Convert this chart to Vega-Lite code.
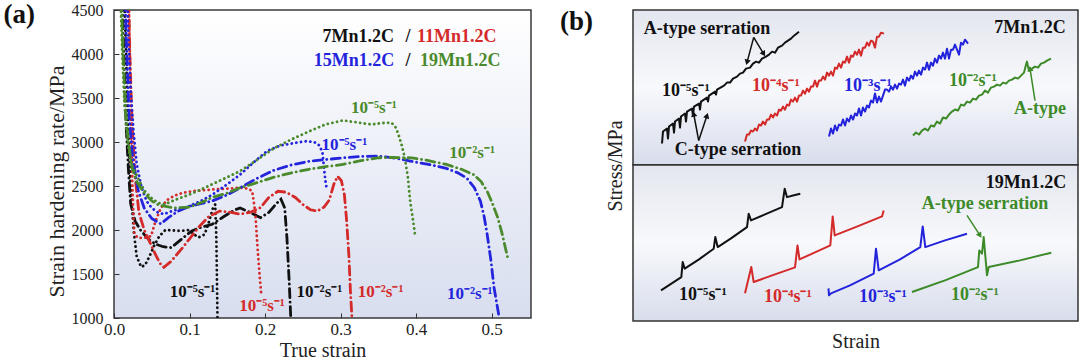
{
  "$schema": "https://vega.github.io/schema/vega-lite/v6.json",
  "background": "white",
  "padding": {"left": 2, "top": 0, "right": 0, "bottom": 0},
  "bounds": "flush",
  "spacing": 102,
  "config": {
    "font": "Liberation Serif",
    "view": {"stroke": "#3a3a3a", "strokeWidth": 1.5},
    "axis": {"grid": false, "labelFont": "Liberation Serif", "titleFont": "Liberation Serif", "titleFontWeight": "normal", "labelColor": "#222222", "titleColor": "#222222", "domain": false, "tickColor": "#333333", "labelFlush": false, "labelOverlap": false},
    "title": {"font": "Liberation Serif"}
  },
  "resolve": {"scale": {"color": "independent", "strokeDash": "independent"}},
  "hconcat": [
    {
      "width": 417,
      "height": 308,
      "title": {"text": "(a)", "orient": "left", "anchor": "end", "angle": 0, "align": "left", "baseline": "top", "fontSize": 27, "fontWeight": "bold", "color": "#111111", "offset": 10},
      "view": {"fill": {"gradient": "linear", "x1": 0, "y1": 0, "x2": 0, "y2": 1, "stops": [{"offset": 0, "color": "#ffffff"}, {"offset": 1, "color": "#d8deef"}]}, "stroke": "#3a3a3a", "strokeWidth": 1.5},
      "layer": [
        {
          "data": {"values": [
            {"a":"7Mn","e":"5","s":0.013,"v":4800},{"a":"7Mn","e":"5","s":0.016,"v":4000},{"a":"7Mn","e":"5","s":0.019,"v":3100},{"a":"7Mn","e":"5","s":0.022,"v":2500},{"a":"7Mn","e":"5","s":0.026,"v":2000},{"a":"7Mn","e":"5","s":0.03,"v":1700},{"a":"7Mn","e":"5","s":0.036,"v":1580},{"a":"7Mn","e":"5","s":0.041,"v":1600},{"a":"7Mn","e":"5","s":0.047,"v":1700},{"a":"7Mn","e":"5","s":0.053,"v":1820},{"a":"7Mn","e":"5","s":0.06,"v":1930},{"a":"7Mn","e":"5","s":0.068,"v":2000},{"a":"7Mn","e":"5","s":0.078,"v":1995},{"a":"7Mn","e":"5","s":0.088,"v":1990},{"a":"7Mn","e":"5","s":0.099,"v":2000},{"a":"7Mn","e":"5","s":0.106,"v":1950},{"a":"7Mn","e":"5","s":0.112,"v":1915},{"a":"7Mn","e":"5","s":0.12,"v":1950},{"a":"7Mn","e":"5","s":0.126,"v":2100},{"a":"7Mn","e":"5","s":0.131,"v":2250},{"a":"7Mn","e":"5","s":0.134,"v":2290},{"a":"7Mn","e":"5","s":0.1355,"v":1900},{"a":"7Mn","e":"5","s":0.137,"v":1000},
            {"a":"7Mn","e":"2","s":0.01,"v":4800},{"a":"7Mn","e":"2","s":0.013,"v":4000},{"a":"7Mn","e":"2","s":0.016,"v":3200},{"a":"7Mn","e":"2","s":0.019,"v":2700},{"a":"7Mn","e":"2","s":0.022,"v":2300},{"a":"7Mn","e":"2","s":0.028,"v":2100},{"a":"7Mn","e":"2","s":0.035,"v":2000},{"a":"7Mn","e":"2","s":0.045,"v":1900},{"a":"7Mn","e":"2","s":0.055,"v":1840},{"a":"7Mn","e":"2","s":0.065,"v":1810},{"a":"7Mn","e":"2","s":0.076,"v":1800},{"a":"7Mn","e":"2","s":0.09,"v":1900},{"a":"7Mn","e":"2","s":0.103,"v":1990},{"a":"7Mn","e":"2","s":0.115,"v":2030},{"a":"7Mn","e":"2","s":0.13,"v":2065},{"a":"7Mn","e":"2","s":0.145,"v":2150},{"a":"7Mn","e":"2","s":0.16,"v":2230},{"a":"7Mn","e":"2","s":0.167,"v":2250},{"a":"7Mn","e":"2","s":0.18,"v":2200},{"a":"7Mn","e":"2","s":0.194,"v":2140},{"a":"7Mn","e":"2","s":0.205,"v":2200},{"a":"7Mn","e":"2","s":0.215,"v":2300},{"a":"7Mn","e":"2","s":0.221,"v":2350},{"a":"7Mn","e":"2","s":0.226,"v":2250},{"a":"7Mn","e":"2","s":0.229,"v":1900},{"a":"7Mn","e":"2","s":0.232,"v":1400},{"a":"7Mn","e":"2","s":0.234,"v":1000},
            {"a":"11Mn","e":"5","s":0.019,"v":4800},{"a":"11Mn","e":"5","s":0.021,"v":4000},{"a":"11Mn","e":"5","s":0.023,"v":3000},{"a":"11Mn","e":"5","s":0.025,"v":2300},{"a":"11Mn","e":"5","s":0.027,"v":1950},{"a":"11Mn","e":"5","s":0.032,"v":1910},{"a":"11Mn","e":"5","s":0.04,"v":1910},{"a":"11Mn","e":"5","s":0.049,"v":1930},{"a":"11Mn","e":"5","s":0.055,"v":2100},{"a":"11Mn","e":"5","s":0.062,"v":2250},{"a":"11Mn","e":"5","s":0.07,"v":2340},{"a":"11Mn","e":"5","s":0.08,"v":2390},{"a":"11Mn","e":"5","s":0.09,"v":2420},{"a":"11Mn","e":"5","s":0.103,"v":2440},{"a":"11Mn","e":"5","s":0.115,"v":2450},{"a":"11Mn","e":"5","s":0.13,"v":2460},{"a":"11Mn","e":"5","s":0.15,"v":2470},{"a":"11Mn","e":"5","s":0.167,"v":2480},{"a":"11Mn","e":"5","s":0.178,"v":2470},{"a":"11Mn","e":"5","s":0.183,"v":2440},{"a":"11Mn","e":"5","s":0.187,"v":2200},{"a":"11Mn","e":"5","s":0.19,"v":1800},{"a":"11Mn","e":"5","s":0.193,"v":1450},{"a":"11Mn","e":"5","s":0.195,"v":1260},
            {"a":"11Mn","e":"2","s":0.019,"v":4800},{"a":"11Mn","e":"2","s":0.021,"v":4000},{"a":"11Mn","e":"2","s":0.024,"v":3200},{"a":"11Mn","e":"2","s":0.028,"v":2600},{"a":"11Mn","e":"2","s":0.033,"v":2200},{"a":"11Mn","e":"2","s":0.04,"v":2000},{"a":"11Mn","e":"2","s":0.048,"v":1850},{"a":"11Mn","e":"2","s":0.055,"v":1720},{"a":"11Mn","e":"2","s":0.061,"v":1620},{"a":"11Mn","e":"2","s":0.066,"v":1575},{"a":"11Mn","e":"2","s":0.075,"v":1640},{"a":"11Mn","e":"2","s":0.09,"v":1790},{"a":"11Mn","e":"2","s":0.1,"v":1900},{"a":"11Mn","e":"2","s":0.112,"v":2030},{"a":"11Mn","e":"2","s":0.125,"v":2150},{"a":"11Mn","e":"2","s":0.14,"v":2215},{"a":"11Mn","e":"2","s":0.155,"v":2200},{"a":"11Mn","e":"2","s":0.167,"v":2180},{"a":"11Mn","e":"2","s":0.18,"v":2200},{"a":"11Mn","e":"2","s":0.194,"v":2255},{"a":"11Mn","e":"2","s":0.205,"v":2370},{"a":"11Mn","e":"2","s":0.217,"v":2440},{"a":"11Mn","e":"2","s":0.228,"v":2430},{"a":"11Mn","e":"2","s":0.24,"v":2370},{"a":"11Mn","e":"2","s":0.25,"v":2290},{"a":"11Mn","e":"2","s":0.26,"v":2230},{"a":"11Mn","e":"2","s":0.269,"v":2215},{"a":"11Mn","e":"2","s":0.278,"v":2260},{"a":"11Mn","e":"2","s":0.285,"v":2340},{"a":"11Mn","e":"2","s":0.291,"v":2520},{"a":"11Mn","e":"2","s":0.296,"v":2610},{"a":"11Mn","e":"2","s":0.301,"v":2560},{"a":"11Mn","e":"2","s":0.305,"v":2400},{"a":"11Mn","e":"2","s":0.308,"v":2100},{"a":"11Mn","e":"2","s":0.311,"v":1700},{"a":"11Mn","e":"2","s":0.313,"v":1300},{"a":"11Mn","e":"2","s":0.315,"v":1000},
            {"a":"15Mn","e":"5","s":0.017,"v":4800},{"a":"15Mn","e":"5","s":0.019,"v":4200},{"a":"15Mn","e":"5","s":0.022,"v":3600},{"a":"15Mn","e":"5","s":0.026,"v":3100},{"a":"15Mn","e":"5","s":0.03,"v":2750},{"a":"15Mn","e":"5","s":0.036,"v":2500},{"a":"15Mn","e":"5","s":0.043,"v":2330},{"a":"15Mn","e":"5","s":0.05,"v":2250},{"a":"15Mn","e":"5","s":0.058,"v":2200},{"a":"15Mn","e":"5","s":0.066,"v":2180},{"a":"15Mn","e":"5","s":0.075,"v":2210},{"a":"15Mn","e":"5","s":0.087,"v":2240},{"a":"15Mn","e":"5","s":0.099,"v":2270},{"a":"15Mn","e":"5","s":0.115,"v":2330},{"a":"15Mn","e":"5","s":0.13,"v":2400},{"a":"15Mn","e":"5","s":0.15,"v":2520},{"a":"15Mn","e":"5","s":0.167,"v":2630},{"a":"15Mn","e":"5","s":0.185,"v":2770},{"a":"15Mn","e":"5","s":0.203,"v":2900},{"a":"15Mn","e":"5","s":0.22,"v":2960},{"a":"15Mn","e":"5","s":0.24,"v":2990},{"a":"15Mn","e":"5","s":0.255,"v":3010},{"a":"15Mn","e":"5","s":0.265,"v":3000},{"a":"15Mn","e":"5","s":0.272,"v":2960},{"a":"15Mn","e":"5","s":0.276,"v":2880},{"a":"15Mn","e":"5","s":0.278,"v":2700},{"a":"15Mn","e":"5","s":0.28,"v":2550},{"a":"15Mn","e":"5","s":0.282,"v":2450},
            {"a":"15Mn","e":"2","s":0.014,"v":4800},{"a":"15Mn","e":"2","s":0.017,"v":4000},{"a":"15Mn","e":"2","s":0.02,"v":3300},{"a":"15Mn","e":"2","s":0.025,"v":2800},{"a":"15Mn","e":"2","s":0.032,"v":2450},{"a":"15Mn","e":"2","s":0.04,"v":2250},{"a":"15Mn","e":"2","s":0.05,"v":2130},{"a":"15Mn","e":"2","s":0.062,"v":2070},{"a":"15Mn","e":"2","s":0.072,"v":2140},{"a":"15Mn","e":"2","s":0.085,"v":2215},{"a":"15Mn","e":"2","s":0.1,"v":2270},{"a":"15Mn","e":"2","s":0.115,"v":2300},{"a":"15Mn","e":"2","s":0.13,"v":2330},{"a":"15Mn","e":"2","s":0.15,"v":2400},{"a":"15Mn","e":"2","s":0.167,"v":2480},{"a":"15Mn","e":"2","s":0.19,"v":2590},{"a":"15Mn","e":"2","s":0.212,"v":2680},{"a":"15Mn","e":"2","s":0.235,"v":2740},{"a":"15Mn","e":"2","s":0.258,"v":2780},{"a":"15Mn","e":"2","s":0.28,"v":2800},{"a":"15Mn","e":"2","s":0.303,"v":2820},{"a":"15Mn","e":"2","s":0.325,"v":2835},{"a":"15Mn","e":"2","s":0.349,"v":2840},{"a":"15Mn","e":"2","s":0.37,"v":2820},{"a":"15Mn","e":"2","s":0.394,"v":2780},{"a":"15Mn","e":"2","s":0.42,"v":2740},{"a":"15Mn","e":"2","s":0.44,"v":2700},{"a":"15Mn","e":"2","s":0.455,"v":2650},{"a":"15Mn","e":"2","s":0.467,"v":2590},{"a":"15Mn","e":"2","s":0.477,"v":2480},{"a":"15Mn","e":"2","s":0.485,"v":2330},{"a":"15Mn","e":"2","s":0.49,"v":2150},{"a":"15Mn","e":"2","s":0.494,"v":1950},{"a":"15Mn","e":"2","s":0.499,"v":1650},{"a":"15Mn","e":"2","s":0.503,"v":1350},{"a":"15Mn","e":"2","s":0.507,"v":1150},{"a":"15Mn","e":"2","s":0.51,"v":1000},
            {"a":"19Mn","e":"5","s":0.008,"v":4800},{"a":"19Mn","e":"5","s":0.011,"v":4000},{"a":"19Mn","e":"5","s":0.014,"v":3400},{"a":"19Mn","e":"5","s":0.018,"v":3000},{"a":"19Mn","e":"5","s":0.023,"v":2750},{"a":"19Mn","e":"5","s":0.03,"v":2620},{"a":"19Mn","e":"5","s":0.04,"v":2450},{"a":"19Mn","e":"5","s":0.05,"v":2360},{"a":"19Mn","e":"5","s":0.058,"v":2310},{"a":"19Mn","e":"5","s":0.067,"v":2290},{"a":"19Mn","e":"5","s":0.08,"v":2340},{"a":"19Mn","e":"5","s":0.099,"v":2400},{"a":"19Mn","e":"5","s":0.115,"v":2460},{"a":"19Mn","e":"5","s":0.13,"v":2520},{"a":"19Mn","e":"5","s":0.15,"v":2600},{"a":"19Mn","e":"5","s":0.167,"v":2670},{"a":"19Mn","e":"5","s":0.19,"v":2800},{"a":"19Mn","e":"5","s":0.212,"v":2930},{"a":"19Mn","e":"5","s":0.235,"v":3030},{"a":"19Mn","e":"5","s":0.258,"v":3120},{"a":"19Mn","e":"5","s":0.28,"v":3200},{"a":"19Mn","e":"5","s":0.303,"v":3245},{"a":"19Mn","e":"5","s":0.32,"v":3225},{"a":"19Mn","e":"5","s":0.34,"v":3200},{"a":"19Mn","e":"5","s":0.355,"v":3215},{"a":"19Mn","e":"5","s":0.367,"v":3220},{"a":"19Mn","e":"5","s":0.372,"v":3180},{"a":"19Mn","e":"5","s":0.376,"v":3100},{"a":"19Mn","e":"5","s":0.381,"v":2960},{"a":"19Mn","e":"5","s":0.385,"v":2820},{"a":"19Mn","e":"5","s":0.389,"v":2600},{"a":"19Mn","e":"5","s":0.392,"v":2330},{"a":"19Mn","e":"5","s":0.396,"v":2100},{"a":"19Mn","e":"5","s":0.399,"v":1915},
            {"a":"19Mn","e":"2","s":0.009,"v":4800},{"a":"19Mn","e":"2","s":0.012,"v":4000},{"a":"19Mn","e":"2","s":0.015,"v":3400},{"a":"19Mn","e":"2","s":0.019,"v":3000},{"a":"19Mn","e":"2","s":0.024,"v":2700},{"a":"19Mn","e":"2","s":0.03,"v":2550},{"a":"19Mn","e":"2","s":0.04,"v":2420},{"a":"19Mn","e":"2","s":0.05,"v":2330},{"a":"19Mn","e":"2","s":0.058,"v":2290},{"a":"19Mn","e":"2","s":0.067,"v":2270},{"a":"19Mn","e":"2","s":0.08,"v":2250},{"a":"19Mn","e":"2","s":0.1,"v":2260},{"a":"19Mn","e":"2","s":0.115,"v":2310},{"a":"19Mn","e":"2","s":0.13,"v":2370},{"a":"19Mn","e":"2","s":0.15,"v":2420},{"a":"19Mn","e":"2","s":0.167,"v":2480},{"a":"19Mn","e":"2","s":0.19,"v":2540},{"a":"19Mn","e":"2","s":0.212,"v":2600},{"a":"19Mn","e":"2","s":0.235,"v":2650},{"a":"19Mn","e":"2","s":0.258,"v":2690},{"a":"19Mn","e":"2","s":0.28,"v":2720},{"a":"19Mn","e":"2","s":0.303,"v":2745},{"a":"19Mn","e":"2","s":0.325,"v":2785},{"a":"19Mn","e":"2","s":0.349,"v":2820},{"a":"19Mn","e":"2","s":0.37,"v":2825},{"a":"19Mn","e":"2","s":0.394,"v":2820},{"a":"19Mn","e":"2","s":0.415,"v":2790},{"a":"19Mn","e":"2","s":0.44,"v":2745},{"a":"19Mn","e":"2","s":0.46,"v":2690},{"a":"19Mn","e":"2","s":0.476,"v":2630},{"a":"19Mn","e":"2","s":0.486,"v":2550},{"a":"19Mn","e":"2","s":0.494,"v":2440},{"a":"19Mn","e":"2","s":0.501,"v":2300},{"a":"19Mn","e":"2","s":0.508,"v":2140},{"a":"19Mn","e":"2","s":0.514,"v":1950},{"a":"19Mn","e":"2","s":0.518,"v":1800},{"a":"19Mn","e":"2","s":0.521,"v":1690}
          ]},
          "mark": {"type": "line", "strokeWidth": 2.8, "strokeCap": "round", "clip": true},
          "encoding": {
            "x": {"field": "s", "type": "quantitative", "scale": {"domain": [0, 0.552], "nice": false, "zero": false},
                  "axis": {"title": "True strain", "values": [0, 0.1, 0.2, 0.3, 0.4, 0.5], "format": ".1f", "labelFontSize": 17, "titleFontSize": 20, "tickSize": -5, "labelPadding": 8, "titlePadding": 3}},
            "y": {"field": "v", "type": "quantitative", "scale": {"domain": [1000, 4500], "nice": false, "zero": false},
                  "axis": {"title": "Strain hardening rate/MPa", "values": [1000, 1500, 2000, 2500, 3000, 3500, 4000, 4500], "format": "d", "labelFontSize": 16, "titleFontSize": 22, "tickSize": -5, "labelPadding": 16, "titlePadding": 3, "titleY": 171}},
            "color": {"field": "a", "type": "nominal", "scale": {"domain": ["7Mn", "11Mn", "15Mn", "19Mn"], "range": ["#111111", "#d42a2a", "#2424dc", "#4a8a2c"]}, "legend": null},
            "strokeDash": {"field": "e", "type": "nominal", "scale": {"domain": ["5", "2"], "range": [[0.1, 4.6], [9, 4.5, 0.1, 4.5]]}, "legend": null}
          }
        },
        {
          "data": {"values": [
            {"s": 0.276, "v": 4190, "t": "7Mn1.2C", "a": "7Mn"},
            {"s": 0.386, "v": 4190, "t": "/", "a": "7Mn"},
            {"s": 0.401, "v": 4190, "t": "11Mn1.2C", "a": "11Mn"},
            {"s": 0.2645, "v": 3923, "t": "15Mn1.2C", "a": "15Mn"},
            {"s": 0.386, "v": 3923, "t": "/", "a": "7Mn"},
            {"s": 0.405, "v": 3923, "t": "19Mn1.2C", "a": "19Mn"}
          ]},
          "mark": {"type": "text", "align": "left", "baseline": "middle", "fontSize": 18, "fontWeight": "bold"},
          "encoding": {
            "x": {"field": "s", "type": "quantitative"},
            "y": {"field": "v", "type": "quantitative"},
            "text": {"field": "t"},
            "color": {"field": "a", "type": "nominal", "legend": null}
          }
        },
        {
          "data": {"values": [
            {"s": 0.344, "v": 3387, "t": "10⁻⁵s⁻¹", "a": "19Mn"},
            {"s": 0.305, "v": 2971, "t": "10⁻⁵s⁻¹", "a": "15Mn"},
            {"s": 0.474, "v": 2877, "t": "10⁻²s⁻¹", "a": "19Mn"},
            {"s": 0.104, "v": 1291, "t": "10⁻⁵s⁻¹", "a": "7Mn"},
            {"s": 0.196, "v": 1140, "t": "10⁻⁵s⁻¹", "a": "11Mn"},
            {"s": 0.272, "v": 1291, "t": "10⁻²s⁻¹", "a": "7Mn"},
            {"s": 0.353, "v": 1291, "t": "10⁻²s⁻¹", "a": "11Mn"},
            {"s": 0.471, "v": 1272, "t": "10⁻²s⁻¹", "a": "15Mn"}
          ]},
          "mark": {"type": "text", "align": "center", "baseline": "middle", "fontSize": 17, "fontWeight": "bold"},
          "encoding": {
            "x": {"field": "s", "type": "quantitative"},
            "y": {"field": "v", "type": "quantitative"},
            "text": {"field": "t"},
            "color": {"field": "a", "type": "nominal", "legend": null}
          }
        }
      ]
    },
    {
      "width": 445,
      "height": 311,
      "title": {"text": "(b)", "orient": "left", "anchor": "end", "angle": 0, "align": "left", "baseline": "top", "fontSize": 27, "fontWeight": "bold", "color": "#111111", "offset": 12},
      "view": {"stroke": null},
      "encoding": {
        "x": {"field": "x", "type": "quantitative", "scale": {"domain": [-2, 443], "nice": false, "zero": false},
              "axis": {"title": "Strain", "labels": false, "ticks": false, "domain": false, "titleFontSize": 20, "titlePadding": 10}},
        "y": {"field": "y", "type": "quantitative", "scale": {"domain": [1.3, 312.7], "nice": false, "zero": false},
              "axis": {"title": "Stress/MPa", "labels": false, "ticks": false, "domain": false, "titleFontSize": 20, "titlePadding": 8}}
      },
      "layer": [
        {
          "data": {"values": [
            {"x": -2, "x2": 443, "y": 1.3, "y2": 157.7},
            {"x": -2, "x2": 443, "y": 157.7, "y2": 312.7}
          ]},
          "mark": {"type": "rect", "stroke": "#333333", "strokeWidth": 1.5,
                   "fill": {"gradient": "linear", "x1": 0, "y1": 0, "x2": 0, "y2": 1, "stops": [{"offset": 0, "color": "#e3e6ee"}, {"offset": 0.5, "color": "#f8f9fc"}, {"offset": 1, "color": "#d8ddec"}]}},
          "encoding": {"x2": {"field": "x2"}, "y2": {"field": "y2"}}
        },
        {
          "data": {"values": [
            {"g":"t5","c":"5","x":27,"y":179},{"g":"t5","c":"5","x":28,"y":191},{"g":"t5","c":"5","x":32,"y":194},{"g":"t5","c":"5","x":33,"y":184},{"g":"t5","c":"5","x":34,"y":196},{"g":"t5","c":"5","x":38,"y":199},{"g":"t5","c":"5","x":39,"y":190},{"g":"t5","c":"5","x":40,"y":201},{"g":"t5","c":"5","x":44,"y":204},{"g":"t5","c":"5","x":45,"y":195},{"g":"t5","c":"5","x":46,"y":206},{"g":"t5","c":"5","x":50,"y":209},{"g":"t5","c":"5","x":51,"y":201},{"g":"t5","c":"5","x":52,"y":211},{"g":"t5","c":"5","x":57,"y":214},{"g":"t5","c":"5","x":58,"y":207},{"g":"t5","c":"5","x":59,"y":216},{"g":"t5","c":"5","x":64,"y":219},{"g":"t5","c":"5","x":65,"y":213},{"g":"t5","c":"5","x":66,"y":221},{"g":"t5","c":"5","x":72,"y":225},{"g":"t5","c":"5","x":73,"y":221},{"g":"t5","c":"5","x":74,"y":227},{"g":"t5","c":"5","x":80,"y":231},{"g":"t5","c":"5","x":81,"y":228},{"g":"t5","c":"5","x":82,"y":233},{"g":"t5","c":"5","x":89,"y":237},{"g":"t5","c":"5","x":92,"y":240},{"g":"t5","c":"5","x":95,"y":240},{"g":"t5","c":"5","x":98,"y":244},{"g":"t5","c":"5","x":102,"y":246},{"g":"t5","c":"5","x":105,"y":249},{"g":"t5","c":"5","x":108,"y":250},{"g":"t5","c":"5","x":111,"y":254},{"g":"t5","c":"5","x":115,"y":255},{"g":"t5","c":"5","x":118,"y":259},{"g":"t5","c":"5","x":121,"y":261},{"g":"t5","c":"5","x":124,"y":260},{"g":"t5","c":"5","x":127,"y":264},{"g":"t5","c":"5","x":131,"y":266},{"g":"t5","c":"5","x":134,"y":268},{"g":"t5","c":"5","x":137,"y":271},{"g":"t5","c":"5","x":140,"y":270},{"g":"t5","c":"5","x":143,"y":275},{"g":"t5","c":"5","x":147,"y":277},{"g":"t5","c":"5","x":150,"y":280},{"g":"t5","c":"5","x":153,"y":282},{"g":"t5","c":"5","x":156,"y":284},{"g":"t5","c":"5","x":159,"y":287},{"g":"t5","c":"5","x":164,"y":291},
            {"g":"t4","c":"4","x":110,"y":181},{"g":"t4","c":"4","x":112,"y":188},{"g":"t4","c":"4","x":114,"y":188},{"g":"t4","c":"4","x":116,"y":192},{"g":"t4","c":"4","x":118,"y":191},{"g":"t4","c":"4","x":120,"y":194},{"g":"t4","c":"4","x":122,"y":192},{"g":"t4","c":"4","x":124,"y":198},{"g":"t4","c":"4","x":126,"y":197},{"g":"t4","c":"4","x":128,"y":201},{"g":"t4","c":"4","x":130,"y":198},{"g":"t4","c":"4","x":132,"y":203},{"g":"t4","c":"4","x":134,"y":203},{"g":"t4","c":"4","x":136,"y":208},{"g":"t4","c":"4","x":138,"y":205},{"g":"t4","c":"4","x":140,"y":209},{"g":"t4","c":"4","x":142,"y":207},{"g":"t4","c":"4","x":144,"y":213},{"g":"t4","c":"4","x":146,"y":212},{"g":"t4","c":"4","x":148,"y":216},{"g":"t4","c":"4","x":150,"y":213},{"g":"t4","c":"4","x":152,"y":218},{"g":"t4","c":"4","x":154,"y":217},{"g":"t4","c":"4","x":156,"y":223},{"g":"t4","c":"4","x":158,"y":221},{"g":"t4","c":"4","x":160,"y":225},{"g":"t4","c":"4","x":162,"y":221},{"g":"t4","c":"4","x":164,"y":227},{"g":"t4","c":"4","x":166,"y":227},{"g":"t4","c":"4","x":168,"y":232},{"g":"t4","c":"4","x":170,"y":229},{"g":"t4","c":"4","x":172,"y":234},{"g":"t4","c":"4","x":174,"y":231},{"g":"t4","c":"4","x":176,"y":236},{"g":"t4","c":"4","x":178,"y":236},{"g":"t4","c":"4","x":180,"y":242},{"g":"t4","c":"4","x":182,"y":236},{"g":"t4","c":"4","x":184,"y":242},{"g":"t4","c":"4","x":186,"y":242},{"g":"t4","c":"4","x":188,"y":246},{"g":"t4","c":"4","x":190,"y":243},{"g":"t4","c":"4","x":192,"y":250},{"g":"t4","c":"4","x":194,"y":247},{"g":"t4","c":"4","x":196,"y":251},{"g":"t4","c":"4","x":198,"y":247},{"g":"t4","c":"4","x":200,"y":255},{"g":"t4","c":"4","x":202,"y":254},{"g":"t4","c":"4","x":204,"y":259},{"g":"t4","c":"4","x":206,"y":255},{"g":"t4","c":"4","x":208,"y":261},{"g":"t4","c":"4","x":210,"y":260},{"g":"t4","c":"4","x":212,"y":266},{"g":"t4","c":"4","x":214,"y":260},{"g":"t4","c":"4","x":216,"y":267},{"g":"t4","c":"4","x":218,"y":266},{"g":"t4","c":"4","x":220,"y":271},{"g":"t4","c":"4","x":222,"y":268},{"g":"t4","c":"4","x":224,"y":273},{"g":"t4","c":"4","x":226,"y":267},{"g":"t4","c":"4","x":228,"y":275},{"g":"t4","c":"4","x":230,"y":275},{"g":"t4","c":"4","x":232,"y":280},{"g":"t4","c":"4","x":234,"y":277},{"g":"t4","c":"4","x":236,"y":282},{"g":"t4","c":"4","x":238,"y":281},{"g":"t4","c":"4","x":240,"y":275},{"g":"t4","c":"4","x":242,"y":286},{"g":"t4","c":"4","x":244,"y":286},{"g":"t4","c":"4","x":246,"y":290},{"g":"t4","c":"4","x":249,"y":289},
            {"g":"t3","c":"3","x":194,"y":186},{"g":"t3","c":"3","x":196,"y":194},{"g":"t3","c":"3","x":198,"y":189},{"g":"t3","c":"3","x":200,"y":197},{"g":"t3","c":"3","x":202,"y":192},{"g":"t3","c":"3","x":204,"y":198},{"g":"t3","c":"3","x":206,"y":197},{"g":"t3","c":"3","x":208,"y":203},{"g":"t3","c":"3","x":210,"y":197},{"g":"t3","c":"3","x":212,"y":204},{"g":"t3","c":"3","x":214,"y":201},{"g":"t3","c":"3","x":216,"y":207},{"g":"t3","c":"3","x":218,"y":203},{"g":"t3","c":"3","x":220,"y":209},{"g":"t3","c":"3","x":222,"y":207},{"g":"t3","c":"3","x":224,"y":214},{"g":"t3","c":"3","x":226,"y":207},{"g":"t3","c":"3","x":228,"y":215},{"g":"t3","c":"3","x":230,"y":211},{"g":"t3","c":"3","x":232,"y":217},{"g":"t3","c":"3","x":234,"y":215},{"g":"t3","c":"3","x":236,"y":222},{"g":"t3","c":"3","x":238,"y":220},{"g":"t3","c":"3","x":240,"y":229},{"g":"t3","c":"3","x":242,"y":220},{"g":"t3","c":"3","x":244,"y":226},{"g":"t3","c":"3","x":246,"y":221},{"g":"t3","c":"3","x":248,"y":227},{"g":"t3","c":"3","x":250,"y":233},{"g":"t3","c":"3","x":252,"y":233},{"g":"t3","c":"3","x":254,"y":231},{"g":"t3","c":"3","x":256,"y":236},{"g":"t3","c":"3","x":258,"y":233},{"g":"t3","c":"3","x":260,"y":238},{"g":"t3","c":"3","x":262,"y":234},{"g":"t3","c":"3","x":264,"y":239},{"g":"t3","c":"3","x":266,"y":238},{"g":"t3","c":"3","x":268,"y":243},{"g":"t3","c":"3","x":270,"y":237},{"g":"t3","c":"3","x":272,"y":245},{"g":"t3","c":"3","x":274,"y":242},{"g":"t3","c":"3","x":276,"y":247},{"g":"t3","c":"3","x":278,"y":244},{"g":"t3","c":"3","x":280,"y":251},{"g":"t3","c":"3","x":282,"y":247},{"g":"t3","c":"3","x":284,"y":252},{"g":"t3","c":"3","x":286,"y":248},{"g":"t3","c":"3","x":288,"y":255},{"g":"t3","c":"3","x":290,"y":253},{"g":"t3","c":"3","x":292,"y":260},{"g":"t3","c":"3","x":294,"y":253},{"g":"t3","c":"3","x":296,"y":260},{"g":"t3","c":"3","x":298,"y":257},{"g":"t3","c":"3","x":300,"y":264},{"g":"t3","c":"3","x":302,"y":260},{"g":"t3","c":"3","x":304,"y":267},{"g":"t3","c":"3","x":306,"y":264},{"g":"t3","c":"3","x":308,"y":270},{"g":"t3","c":"3","x":310,"y":264},{"g":"t3","c":"3","x":312,"y":274},{"g":"t3","c":"3","x":314,"y":264},{"g":"t3","c":"3","x":316,"y":273},{"g":"t3","c":"3","x":318,"y":273},{"g":"t3","c":"3","x":320,"y":278},{"g":"t3","c":"3","x":322,"y":273},{"g":"t3","c":"3","x":324,"y":268},{"g":"t3","c":"3","x":326,"y":280},{"g":"t3","c":"3","x":328,"y":278},{"g":"t3","c":"3","x":330,"y":283},{"g":"t3","c":"3","x":333,"y":279},
            {"g":"t2","c":"2","x":278,"y":187},{"g":"t2","c":"2","x":281,"y":190},{"g":"t2","c":"2","x":284,"y":188},{"g":"t2","c":"2","x":287,"y":192},{"g":"t2","c":"2","x":290,"y":194},{"g":"t2","c":"2","x":293,"y":192},{"g":"t2","c":"2","x":296,"y":197},{"g":"t2","c":"2","x":299,"y":196},{"g":"t2","c":"2","x":302,"y":201},{"g":"t2","c":"2","x":305,"y":199},{"g":"t2","c":"2","x":308,"y":205},{"g":"t2","c":"2","x":311,"y":204},{"g":"t2","c":"2","x":314,"y":208},{"g":"t2","c":"2","x":317,"y":211},{"g":"t2","c":"2","x":320,"y":213},{"g":"t2","c":"2","x":323,"y":212},{"g":"t2","c":"2","x":326,"y":218},{"g":"t2","c":"2","x":329,"y":217},{"g":"t2","c":"2","x":332,"y":221},{"g":"t2","c":"2","x":335,"y":220},{"g":"t2","c":"2","x":338,"y":224},{"g":"t2","c":"2","x":341,"y":223},{"g":"t2","c":"2","x":344,"y":227},{"g":"t2","c":"2","x":347,"y":228},{"g":"t2","c":"2","x":350,"y":232},{"g":"t2","c":"2","x":353,"y":230},{"g":"t2","c":"2","x":356,"y":235},{"g":"t2","c":"2","x":359,"y":236},{"g":"t2","c":"2","x":362,"y":238},{"g":"t2","c":"2","x":365,"y":237},{"g":"t2","c":"2","x":368,"y":240},{"g":"t2","c":"2","x":371,"y":239},{"g":"t2","c":"2","x":374,"y":242},{"g":"t2","c":"2","x":377,"y":243},{"g":"t2","c":"2","x":380,"y":245},{"g":"t2","c":"2","x":383,"y":244},{"g":"t2","c":"2","x":386,"y":247},{"g":"t2","c":"2","x":389,"y":250},{"g":"t2","c":"2","x":391,"y":258},{"g":"t2","c":"2","x":392,"y":261},{"g":"t2","c":"2","x":393,"y":256},{"g":"t2","c":"2","x":394,"y":252},{"g":"t2","c":"2","x":397,"y":254},{"g":"t2","c":"2","x":400,"y":256},{"g":"t2","c":"2","x":403,"y":255},{"g":"t2","c":"2","x":406,"y":259},{"g":"t2","c":"2","x":409,"y":260},{"g":"t2","c":"2","x":412,"y":262},{"g":"t2","c":"2","x":416,"y":264},
            {"g":"b5","c":"5","x":26,"y":32},{"g":"b5","c":"5","x":36,"y":38.5},{"g":"b5","c":"5","x":46.3,"y":45.3},{"g":"b5","c":"5","x":47.7,"y":60.3},{"g":"b5","c":"5","x":49.7,"y":53.7},{"g":"b5","c":"5","x":64,"y":63},{"g":"b5","c":"5","x":78.7,"y":73.7},{"g":"b5","c":"5","x":80.3,"y":85.3},{"g":"b5","c":"5","x":82.7,"y":75.3},{"g":"b5","c":"5","x":96,"y":84},{"g":"b5","c":"5","x":112,"y":95.3},{"g":"b5","c":"5","x":113.7,"y":108.7},{"g":"b5","c":"5","x":116,"y":102},{"g":"b5","c":"5","x":130,"y":108},{"g":"b5","c":"5","x":147,"y":115.3},{"g":"b5","c":"5","x":149.7,"y":133.7},{"g":"b5","c":"5","x":152,"y":125.3},{"g":"b5","c":"5","x":158,"y":127},{"g":"b5","c":"5","x":165.3,"y":128.7},
            {"g":"b4","c":"4","x":110,"y":29},{"g":"b4","c":"4","x":116.3,"y":55.3},{"g":"b4","c":"4","x":118.7,"y":40.3},{"g":"b4","c":"4","x":140,"y":48},{"g":"b4","c":"4","x":160,"y":55},{"g":"b4","c":"4","x":162.5,"y":77},{"g":"b4","c":"4","x":164.5,"y":63},{"g":"b4","c":"4","x":180,"y":70},{"g":"b4","c":"4","x":195.3,"y":77},{"g":"b4","c":"4","x":197.7,"y":106},{"g":"b4","c":"4","x":199.7,"y":87},{"g":"b4","c":"4","x":225,"y":97},{"g":"b4","c":"4","x":247,"y":106},{"g":"b4","c":"4","x":248.7,"y":112},
            {"g":"b3","c":"3","x":193.5,"y":34},{"g":"b3","c":"3","x":194,"y":27},{"g":"b3","c":"3","x":196,"y":29},{"g":"b3","c":"3","x":215,"y":37},{"g":"b3","c":"3","x":238.7,"y":48.7},{"g":"b3","c":"3","x":241,"y":73.7},{"g":"b3","c":"3","x":243.7,"y":52},{"g":"b3","c":"3","x":265,"y":63},{"g":"b3","c":"3","x":285.3,"y":75.3},{"g":"b3","c":"3","x":287.7,"y":96},{"g":"b3","c":"3","x":290.3,"y":75.3},{"g":"b3","c":"3","x":310,"y":82},{"g":"b3","c":"3","x":332,"y":88.7},
            {"g":"b2","c":"2","x":277,"y":30.3},{"g":"b2","c":"2","x":310,"y":42},{"g":"b2","c":"2","x":343,"y":55.3},{"g":"b2","c":"2","x":344.3,"y":72},{"g":"b2","c":"2","x":347,"y":68.7},{"g":"b2","c":"2","x":348.7,"y":85.3},{"g":"b2","c":"2","x":352,"y":47},{"g":"b2","c":"2","x":353.7,"y":55.3},{"g":"b2","c":"2","x":385,"y":62},{"g":"b2","c":"2","x":416.3,"y":69.7}
          ]},
          "mark": {"type": "line", "strokeWidth": 2, "strokeJoin": "round"},
          "encoding": {
            "detail": {"field": "g"},
            "color": {"field": "c", "type": "nominal", "scale": {"domain": ["5", "4", "3", "2"], "range": ["#111111", "#d42a2a", "#2323dc", "#3d8a28"]}, "legend": null}
          }
        },
        {
          "data": {"values": [
            {"x": 112, "y": 260.3, "x2": 118.7, "y2": 285.3, "c": "5", "ang": 195},
            {"x": 128.7, "y": 268.7, "x2": 118.7, "y2": 285.3, "c": "5", "ang": 149},
            {"x": 58.7, "y": 208.7, "x2": 63.7, "y2": 182, "c": "5", "ang": 349},
            {"x": 72, "y": 207, "x2": 63.7, "y2": 182, "c": "5", "ang": 18},
            {"x": 395, "y": 254, "x2": 400, "y2": 222, "c": "2", "ang": 351},
            {"x": 345, "y": 87, "x2": 332, "y2": 107, "c": "2", "ang": 147}
          ]},
          "layer": [
            {"mark": {"type": "rule", "strokeWidth": 1.5}, "encoding": {"x2": {"field": "x2"}, "y2": {"field": "y2"}, "color": {"field": "c", "type": "nominal", "legend": null}}},
            {"mark": {"type": "point", "shape": "triangle-up", "filled": true, "size": 40, "opacity": 1}, "encoding": {"angle": {"field": "ang", "type": "quantitative", "scale": null}, "color": {"field": "c", "type": "nominal", "legend": null}}}
          ]
        },
        {
          "data": {"values": [
            {"x": 72, "y": 293.7, "t": "A-type serration", "c": "5"},
            {"x": 51, "y": 232, "t": "10⁻⁵s⁻¹", "c": "5"},
            {"x": 103, "y": 173, "t": "C-type serration", "c": "5"},
            {"x": 141, "y": 237, "t": "10⁻⁴s⁻¹", "c": "4"},
            {"x": 233, "y": 237, "t": "10⁻³s⁻¹", "c": "3"},
            {"x": 338, "y": 242, "t": "10⁻²s⁻¹", "c": "2"},
            {"x": 405, "y": 214, "t": "A-type", "c": "2"},
            {"x": 395, "y": 295, "t": "7Mn1.2C", "c": "5"},
            {"x": 391, "y": 139, "t": "19Mn1.2C", "c": "5"},
            {"x": 350, "y": 118, "t": "A-type serration", "c": "2"},
            {"x": 68, "y": 27, "t": "10⁻⁵s⁻¹", "c": "5"},
            {"x": 153, "y": 25, "t": "10⁻⁴s⁻¹", "c": "4"},
            {"x": 248, "y": 25, "t": "10⁻³s⁻¹", "c": "3"},
            {"x": 340, "y": 27, "t": "10⁻²s⁻¹", "c": "2"}
          ]},
          "mark": {"type": "text", "align": "center", "baseline": "middle", "fontSize": 18, "fontWeight": "bold"},
          "encoding": {
            "text": {"field": "t"},
            "color": {"field": "c", "type": "nominal", "legend": null}
          }
        }
      ]
    }
  ]
}
